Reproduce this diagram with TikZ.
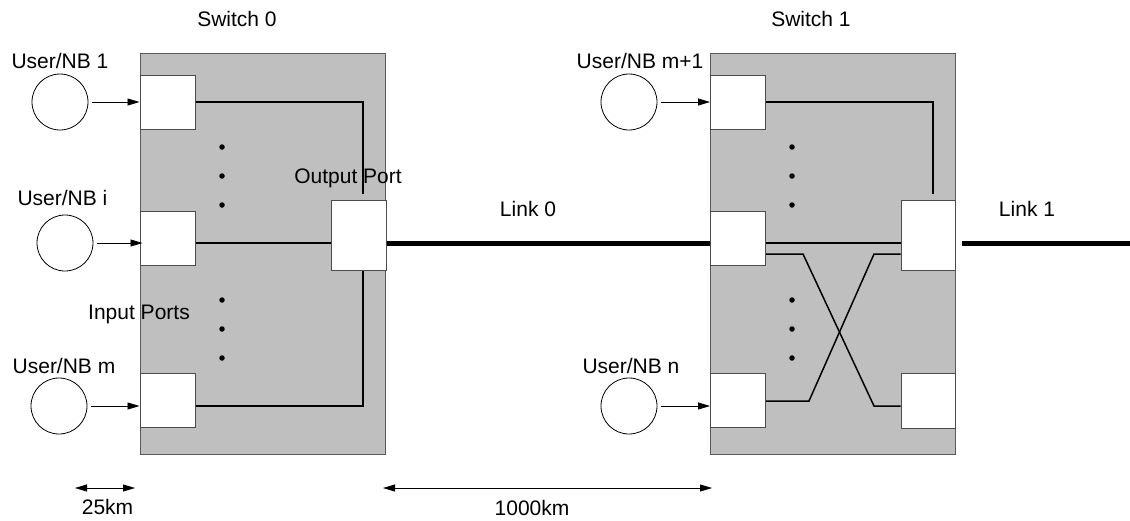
\documentclass[tikz,border=0pt]{standalone}
\usepackage{fontspec}
\setmainfont{Liberation Sans}
\usetikzlibrary{arrows.meta}
\begin{document}
\begin{tikzpicture}[x=1pt,y=-1pt,
  lbl/.style={font=\fontsize{21}{25}\selectfont,anchor=base,inner sep=0},
  swbox/.style={draw=black!65,fill=black!25,line width=1pt,minimum width=245pt,minimum height=401pt,inner sep=0},
  port/.style={draw=black!70,fill=white,line width=1pt,minimum width=55pt,minimum height=54pt,inner sep=0},
  oport/.style={port,minimum height=70pt},
  user/.style={draw,circle,line width=0.8pt,minimum size=56pt,inner sep=0},
  arr/.style={line width=0.8pt,-{Triangle[length=12pt,width=7pt]}},
  dim/.style={line width=0.8pt,{Triangle[length=12pt,width=7pt]}-{Triangle[length=12pt,width=7pt]}},
  wire/.style={line width=1.5pt},
  link/.style={line width=5pt},
  dotm/.style={fill,circle,inner sep=0,minimum size=5.5pt}]
\useasboundingbox (0,0) rectangle (1130,520);
% reference levels
\coordinate (y194) at (0,194);
\coordinate (y243) at (0,243);
\coordinate (y254) at (0,254);
\coordinate (y401) at (0,401);
\coordinate (y406) at (0,406);
% switches
\node[swbox] (sw0) at (263,253.5) {};
\node[swbox] (sw1) at (833,253.5) {};
\node[lbl] (sw0l) at (237,26) {Switch 0};
\node[lbl] (sw1l) at (811,26) {Switch 1};
% switch 0 ports
\node[port] (p01) at (167.5,102) {};
\node[port] (p0i) at (167.5,238) {};
\node[port] (p0m) at (167.5,400) {};
\node[oport] (op0) at (358.5,235) {};
% switch 1 ports
\node[port] (p11) at (738,102) {};
\node[port] (p1i) at (738,238) {};
\node[port] (p1n) at (738,400.5) {};
\node[oport,minimum width=54pt] (op1) at (928,235) {};
\node[port,minimum width=54pt,minimum height=55pt] (op2) at (928,400.5) {};
% users
\node[user] (u1) at (60,102) {};
\node[user] (ui) at (65,243) {};
\node[user] (um) at (59,406) {};
\node[user] (um1) at (629,102) {};
\node[user] (un) at (629,406) {};
\node[lbl] (u1l) at (60,68) {User/NB 1};
\node[lbl] (uil) at (62.5,205) {User/NB i};
\node[lbl] (uml) at (64,373) {User/NB m};
\node[lbl] (um1l) at (640,68) {User/NB m+1};
\node[lbl] (unl) at (631,373) {User/NB n};
\node[lbl] (opl) at (348,183) {Output Port};
\node[lbl] (ipl) at (139,319) {Input Ports};
\node[lbl] (l0l) at (528,216) {Link 0};
\node[lbl] (l1l) at (1027,216) {Link 1};
% arrows from users
\draw[arr] ([xshift=4pt]u1.east) -- (p01.west |- u1);
\draw[arr] ([xshift=4pt]ui.east) -- ([xshift=3pt]p0i.west |- ui);
\draw[arr] ([xshift=4pt]um.east) -- (p0m.west |- um);
\draw[arr] ([xshift=4pt]um1.east) -- (p11.west |- um1);
\draw[arr] ([xshift=4pt]un.east) -- (p1n.west |- un);
% dots
\foreach \yy [count=\k] in {147,176,205,300,329,358}{
  \node[dotm] (d0\k) at (222,\yy) {};
  \node[dotm] (d1\k) at (792,\yy) {};
}
% switch 0 wiring
\coordinate (c0) at ([xshift=4.5pt]op0.north);
\draw[wire] (p01.east) -| (c0 |- y194);
\draw[wire] (p0i.east |- y243) -- (op0.west |- y243);
\draw[wire] (p0m.east |- y406) -| ([xshift=4.5pt]op0.south);
% switch 1 wiring
\coordinate (c1) at ([xshift=5pt]op1.north);
\draw[wire] (p11.east) -| (c1 |- y194);
\draw[wire] (p1i.east |- y243) -- (op1.west |- y243);
\coordinate (x1a) at (803,0);
\coordinate (x1b) at (809,0);
\coordinate (x1c) at (874,0);
\draw[wire] (p1i.east |- y254) -- (x1a |- y254) -- (x1c |- y406) -- (op2.west |- y406);
\draw[wire] (p1n.east |- y401) -- (x1b |- y401) -- (x1c |- y254) -- (op1.west |- y254);
% links
\draw[link] (op0.east |- y243) -- (p1i.west |- y243);
\coordinate (lend) at (1130,243);
\draw[link,shorten <=6pt] (op1.east |- y243) -- (lend);
% dimensions
\coordinate (a1) at (75,488);
\coordinate (a2) at (135,488);
\coordinate (b1) at (383,488);
\coordinate (b2) at (712,488);
\draw[dim] (a1) -- (a2);
\draw[dim] (b1) -- (b2);
\node[lbl] (k25) at (107.5,514) {25km};
\node[lbl] (k1000) at (532,515) {1000km};
\end{tikzpicture}
\end{document}
